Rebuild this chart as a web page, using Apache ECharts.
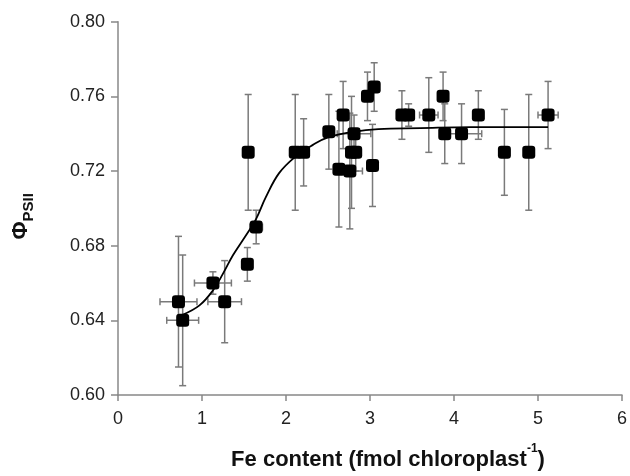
<!DOCTYPE html>
<html>
<head>
<meta charset="utf-8">
<script src="https://cdn.jsdelivr.net/npm/echarts@6/dist/echarts.min.js"></script>
<style>html,body{margin:0;padding:0;background:#fff;}#c{width:630px;height:476px;}</style>
</head>
<body>
<div id="c"></div>
<script>
// Fe content (fmol chloroplast^-1)
const feContent = [0.72, 0.77, 1.13, 1.27, 1.54, 1.55, 1.645, 2.11, 2.21, 2.51, 2.63, 2.68, 2.76, 2.78, 2.83, 2.81, 2.97, 3.05, 3.03, 3.38, 3.46, 3.70, 3.87, 3.89, 4.09, 4.29, 4.60, 4.89, 5.12];
// Phi PSII
const phiPSII = [0.650, 0.640, 0.660, 0.650, 0.670, 0.730, 0.690, 0.730, 0.730, 0.741, 0.721, 0.750, 0.720, 0.730, 0.730, 0.740, 0.760, 0.765, 0.723, 0.750, 0.750, 0.750, 0.760, 0.740, 0.740, 0.750, 0.730, 0.730, 0.750];
// horizontal error (x)
const feErr = [0.22, 0.19, 0.22, 0.20, 0, 0, 0.075, 0, 0, 0, 0, 0, 0.15, 0, 0, 0.20, 0, 0, 0, 0, 0, 0.11, 0, 0, 0.24, 0, 0, 0, 0.12];
// vertical error (y)
const phiErr = [0.035, 0.035, 0.006, 0.022, 0.009, 0.031, 0.009, 0.031, 0.018, 0.020, 0.031, 0.018, 0.031, 0.030, 0.010, 0.010, 0.013, 0.013, 0.022, 0.013, 0.006, 0.020, 0.013, 0.016, 0.016, 0.013, 0.023, 0.031, 0.018];
// fitted curve
const fitX = [0.77, 0.97, 1.13, 1.25, 1.37, 1.53, 1.64, 1.76, 1.92, 2.12, 2.32, 2.50, 2.80, 3.10, 3.60, 4.20, 5.12];
const fitY = [0.643, 0.648, 0.656, 0.665, 0.675, 0.686, 0.694, 0.706, 0.719, 0.728, 0.734, 0.738, 0.741, 0.7425, 0.743, 0.7435, 0.7435];
const xTicks = [0, 1, 2, 3, 4, 5, 6];
const yTicks = [0.60, 0.64, 0.68, 0.72, 0.76, 0.80];

const pts = feContent.map((x, i) => [x, phiPSII[i]]);
const errData = feContent.map((x, i) => [x, phiPSII[i], feErr[i], phiErr[i]]);
const fitData = fitX.map((x, i) => [x, fitY[i]]);

const chart = echarts.init(document.getElementById('c'));
const barStyle = { stroke: '#7a7a7a', lineWidth: 1.5 };
const cap = 3.5;

chart.setOption({
  animation: false,
  grid: { left: 118, right: 5, top: 21.7, bottom: 78 },
  xAxis: {
    type: 'value', min: xTicks[0], max: xTicks[xTicks.length - 1], interval: 1,
    name: '{t|Fe content (fmol chloroplast}{s|-1}{t|)}',
    nameLocation: 'middle', nameGap: 48,
    nameTextStyle: {
      padding: [0, 0, 0, 36],
      rich: {
        t: { fontFamily: 'Liberation Sans', fontSize: 22, fontWeight: 'bold', color: '#111', lineHeight: 28, verticalAlign: 'bottom' },
        s: { fontFamily: 'Liberation Sans', fontSize: 12, fontWeight: 'bold', color: '#111', lineHeight: 28, verticalAlign: 'top' }
      }
    },
    axisLine: { lineStyle: { color: '#888', width: 1.5 } },
    axisTick: { show: true, length: 6, lineStyle: { color: '#888', width: 1.5 } },
    axisLabel: { fontFamily: 'Liberation Sans', fontSize: 18, color: '#222', margin: 15 },
    splitLine: { show: false }
  },
  yAxis: {
    type: 'value', min: yTicks[0], max: yTicks[yTicks.length - 1], interval: 0.04,
    name: '{a|Φ}{b|PSII}',
    nameLocation: 'middle', nameGap: 82, nameRotate: 90,
    nameTextStyle: {
      padding: [0, 16, 0, 0],
      rich: {
        a: { fontFamily: 'Liberation Sans', fontSize: 22, fontWeight: 'bold', color: '#111', lineHeight: 30, verticalAlign: 'middle' },
        b: { fontFamily: 'Liberation Sans', fontSize: 15, fontWeight: 'bold', color: '#111', lineHeight: 30, verticalAlign: 'bottom' }
      }
    },
    axisLine: { show: true, lineStyle: { color: '#888', width: 1.5 } },
    axisTick: { show: true, length: 7, lineStyle: { color: '#888', width: 1.5 } },
    axisLabel: { fontFamily: 'Liberation Sans', fontSize: 18, color: '#222', margin: 13, formatter: v => v.toFixed(2) },
    splitLine: { show: false }
  },
  series: [
    {
      type: 'custom', z: 1,
      data: errData,
      renderItem: function (params, api) {
        const x = api.value(0), y = api.value(1), ex = api.value(2), ey = api.value(3);
        const children = [];
        if (ey > 0) {
          const t = api.coord([x, y + ey]), b = api.coord([x, y - ey]);
          children.push({ type: 'line', shape: { x1: t[0], y1: t[1], x2: b[0], y2: b[1] }, style: barStyle });
          children.push({ type: 'line', shape: { x1: t[0] - cap, y1: t[1], x2: t[0] + cap, y2: t[1] }, style: barStyle });
          children.push({ type: 'line', shape: { x1: b[0] - cap, y1: b[1], x2: b[0] + cap, y2: b[1] }, style: barStyle });
        }
        if (ex > 0) {
          const l = api.coord([x - ex, y]), r = api.coord([x + ex, y]);
          children.push({ type: 'line', shape: { x1: l[0], y1: l[1], x2: r[0], y2: r[1] }, style: barStyle });
          children.push({ type: 'line', shape: { x1: l[0], y1: l[1] - cap, x2: l[0], y2: l[1] + cap }, style: barStyle });
          children.push({ type: 'line', shape: { x1: r[0], y1: r[1] - cap, x2: r[0], y2: r[1] + cap }, style: barStyle });
        }
        return { type: 'group', children: children };
      }
    },
    {
      type: 'line', z: 2, data: fitData, smooth: 0.4, showSymbol: false, symbol: 'none',
      lineStyle: { color: '#000', width: 1.8 }
    },
    {
      type: 'scatter', z: 3, data: pts, symbol: 'roundRect', symbolSize: 13,
      itemStyle: { color: '#000', opacity: 1 }
    }
  ]
});
</script>
</body>
</html>
